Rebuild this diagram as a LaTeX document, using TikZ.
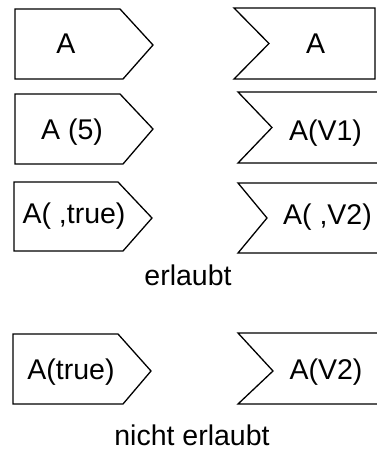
\documentclass[tikz,border=0pt]{standalone}
\usepackage{fontspec}
\setmainfont{Liberation Sans}
\begin{document}
\begin{tikzpicture}[x=1pt,y=-1pt,
  shapeline/.style={draw=black,line width=1.3pt,line join=miter,fill=white},
  lbl/.style={anchor=base,inner sep=0pt,font=\fontsize{28.5}{34}\selectfont}]
\useasboundingbox (0,0) rectangle (377,452);
\clip (0,0) rectangle (377,452);
% send signals (left)
\draw[shapeline] (15,9) -- (120,9) -- (153,45) -- (123,79) -- (15,79) -- cycle;
\draw[shapeline] (15,94) -- (120,94) -- (153,129) -- (123,164) -- (15,164) -- cycle;
\draw[shapeline] (14,182) -- (118,182) -- (152,218) -- (123,251) -- (14,251) -- cycle;
\draw[shapeline] (13,334) -- (118,334) -- (151,371) -- (123,404) -- (13,404) -- cycle;
% receive signals (right)
\draw[shapeline] (234,8) -- (375,8) -- (375,79) -- (234,79) -- (269,43.5) -- cycle;
\draw[shapeline] (238,92) -- (390,92) -- (390,163) -- (238,163) -- (272,127.5) -- cycle;
\draw[shapeline] (238,183) -- (390,183) -- (390,253) -- (238,253) -- (267,218) -- cycle;
\draw[shapeline] (238,333) -- (390,333) -- (390,404) -- (238,404) -- (273,371) -- cycle;
% labels
\node[lbl] (s1) at (66,53) {A};
\node[lbl] (s2) at (72,139.5) {A (5)};
\node[lbl] (s3) at (74,223.5) {A( ,true)};
\node[lbl] (s4) at (71,379.5) {A(true)};
\node[lbl] (r1) at (315.5,54) {A};
\node[lbl] (r2) at (325.5,140) {A(V1)};
\node[lbl] (r3) at (327.5,224) {A( ,V2)};
\node[lbl] (r4) at (326,379.5) {A(V2)};
\node[lbl] (ok) at (188,285.7) {erlaubt};
\node[lbl] (nok) at (192,445) {nicht erlaubt};
\end{tikzpicture}
\end{document}
